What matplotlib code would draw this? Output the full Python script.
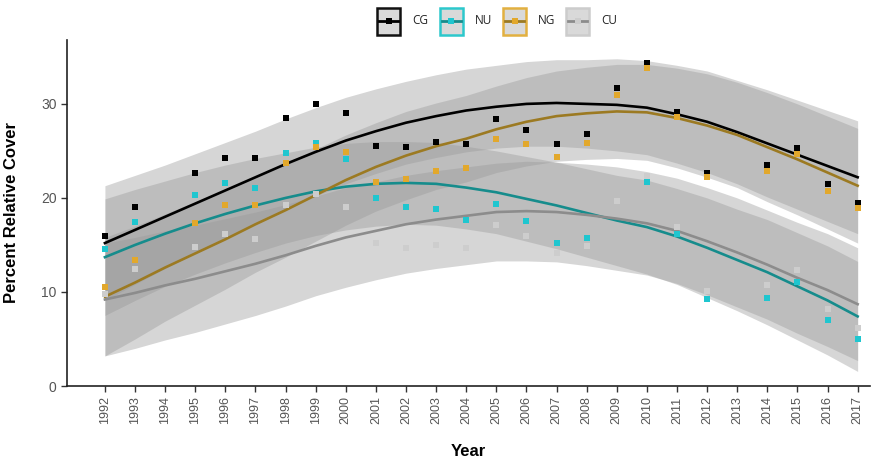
import numpy as np
import matplotlib

matplotlib.use("Agg")
import matplotlib.pyplot as plt
from matplotlib.patches import Rectangle
from matplotlib.lines import Line2D

plt.rcParams["font.family"] = ["Liberation Sans", "DejaVu Sans"]

# ── yearly means (points) ──
years = [1992, 1993, 1995, 1996, 1997, 1998, 1999, 2000, 2001, 2002, 2003, 2004,
         2005, 2006, 2007, 2008, 2009, 2010, 2011, 2012, 2014, 2015, 2016, 2017]
cg = [15.9, 19.0, 22.6, 24.3, 24.3, 28.5, 30.0, 29.0, 25.5, 25.4, 25.9, 25.7,
      28.4, 27.2, 25.7, 26.8, 31.7, 34.4, 29.1, 22.6, 23.5, 25.3, 21.5, 19.5]
nu = [14.6, 17.4, 20.3, 21.6, 21.1, 24.8, 25.8, 24.1, 20.0, 19.0, 18.8, 17.7,
      19.4, 17.5, 15.2, 15.7, np.nan, 21.7, 16.2, 9.2, 9.4, 11.1, 7.0, 5.0]
ng = [10.5, 13.4, 17.3, 19.2, 19.3, 23.7, 25.4, 24.9, 21.7, 22.0, 22.9, 23.2,
      26.3, 25.7, 24.4, 25.8, 31.0, 33.8, 28.6, 22.2, 22.9, 24.7, 20.7, 18.9]
cu = [9.8, 12.4, 14.8, 16.2, 15.6, 19.3, 20.4, 19.0, 15.2, 14.7, 15.0, 14.7,
      17.1, 15.9, 14.1, 14.9, 19.7, 22.3, 16.9, 10.1, 10.7, 12.3, 8.2, 6.2]

# ── smoothed trend + ribbon half-width, read at each year 1992..2017 ──
fit_years = list(range(1992, 2018))
cg_fit = [15.2, 16.6, 18.0, 19.4, 20.8, 22.2, 23.6, 24.9, 26.1, 27.1, 28.0, 28.7, 29.3,
          29.7, 30.0, 30.1, 30.0, 29.9, 29.6, 28.9, 28.1, 27.0, 25.8, 24.6, 23.4, 22.2]
nu_fit = [13.7, 15.0, 16.2, 17.3, 18.3, 19.2, 20.0, 20.7, 21.2, 21.5, 21.6, 21.5, 21.1,
          20.6, 19.9, 19.2, 18.4, 17.6, 16.9, 15.9, 14.7, 13.4, 12.1, 10.6, 9.1, 7.4]
ng_fit = [9.5, 11.0, 12.6, 14.1, 15.6, 17.2, 18.7, 20.3, 21.9, 23.3, 24.5, 25.5, 26.3,
          27.3, 28.1, 28.7, 29.0, 29.2, 29.1, 28.5, 27.7, 26.7, 25.4, 24.1, 22.7, 21.3]
cu_fit = [9.2, 9.9, 10.7, 11.4, 12.2, 13.0, 13.9, 14.9, 15.8, 16.5, 17.2, 17.7, 18.1,
          18.5, 18.6, 18.5, 18.2, 17.8, 17.3, 16.5, 15.4, 14.2, 12.9, 11.5, 10.2, 8.7]
cg_hw = [6.1, 5.8, 5.5, 5.3, 5.1, 4.9, 4.8, 4.7, 4.6, 4.5, 4.4, 4.4, 4.4,
         4.4, 4.5, 4.6, 4.7, 4.9, 5.0, 5.2, 5.4, 5.5, 5.7, 5.8, 5.9, 6.0]
nu_hw = [6.2, 5.9, 5.6, 5.4, 5.2, 5.0, 4.8, 4.7, 4.6, 4.5, 4.4, 4.4, 4.4,
         4.4, 4.5, 4.6, 4.7, 4.8, 5.0, 5.1, 5.3, 5.4, 5.6, 5.7, 5.8, 5.85]
ng_hw = [6.3, 6.0, 5.7, 5.5, 5.3, 5.1, 5.0, 4.9, 4.8, 4.7, 4.7, 4.6, 4.6,
         4.6, 4.7, 4.8, 4.9, 5.0, 5.1, 5.3, 5.5, 5.6, 5.8, 5.9, 6.0, 6.1]
cu_hw = [6.0, 5.9, 5.8, 5.7, 5.6, 5.5, 5.4, 5.3, 5.3, 5.2, 5.2, 5.2, 5.2,
         5.2, 5.3, 5.3, 5.4, 5.5, 5.5, 5.6, 5.7, 5.8, 5.8, 5.9, 6.0, 6.0]

tick_years = list(range(1992, 2018))
labels = ["CG", "NU", "NG", "CU"]
points = {"CG": cg, "NU": nu, "NG": ng, "CU": cu}
fits = {"CG": (cg_fit, cg_hw), "NU": (nu_fit, nu_hw), "NG": (ng_fit, ng_hw), "CU": (cu_fit, cu_hw)}
line_colors = {"CG": "#000000", "NU": "#168c8c", "NG": "#9c7a22", "CU": "#8c8c8c"}
point_colors = {"CG": "#000000", "NU": "#1fc6cf", "NG": "#e2a82c", "CU": "#cdcdcd"}
key_edges = {"CG": "#111111", "NU": "#2cc8cc", "NG": "#e2b040", "CU": "#cccccc"}

fig = plt.figure(figsize=(8.85, 4.62), dpi=100)
ax = fig.add_axes([0.0757, 0.1645, 0.907, 0.749])

for lab in labels:
    f, hw = np.array(fits[lab][0]), np.array(fits[lab][1])
    ax.fill_between(fit_years, f - hw, f + hw, color="#999999", alpha=0.4, lw=0, zorder=1)
for lab in labels:
    ax.plot(fit_years, fits[lab][0], color=line_colors[lab], lw=1.9, zorder=2,
            solid_joinstyle="round")
for lab in ["CG", "CU", "NU", "NG"]:
    ax.plot(years, points[lab], "s", color=point_colors[lab], ms=4.8, mew=0, zorder=3)

ax.set_xlim(1990.74, 2017.4)
ax.set_ylim(0, 36.8)
ax.set_xticks(tick_years)
ax.set_xticklabels([str(y) for y in tick_years], rotation=90, fontsize=9, color="#555555")
ax.set_yticks([0, 10, 20, 30])
ax.tick_params(axis="y", labelsize=10, labelcolor="#555555")
ax.tick_params(length=4, width=1, color="#333333")
for side in ["top", "right"]:
    ax.spines[side].set_visible(False)
for side in ["left", "bottom"]:
    ax.spines[side].set_linewidth(1.2)
    ax.spines[side].set_color("#222222")
ax.set_xlabel("Year", fontsize=12, fontweight="bold", labelpad=14)
ax.set_ylabel("Percent Relative Cover", fontsize=12, fontweight="bold", labelpad=16)

# ── legend drawn by hand (framed keys like ggplot) ──
W, H = 885.0, 462.0
key_x = [377, 440, 503, 566]
for kx, lab in zip(key_x, labels):
    fig.patches.append(Rectangle((kx / W, 1 - 35 / H), 23 / W, 27 / H,
                                 transform=fig.transFigure, facecolor="#d9d9d9",
                                 edgecolor=key_edges[lab], lw=1.8))
    yc = 1 - 21 / H
    fig.lines.append(Line2D([(kx + 2) / W, (kx + 21) / W], [yc, yc], transform=fig.transFigure,
                            color=line_colors[lab], lw=2.0))
    fig.lines.append(Line2D([(kx + 11.5) / W], [yc], transform=fig.transFigure,
                            marker="s", color=point_colors[lab], ms=4.5, mew=0))
    fig.text((kx + 35) / W, yc, lab, fontsize=8.5, va="center", ha="left",
             color="#222222", family=["Open Sans", "DejaVu Sans"])

fig.savefig("out.png", dpi=100)
